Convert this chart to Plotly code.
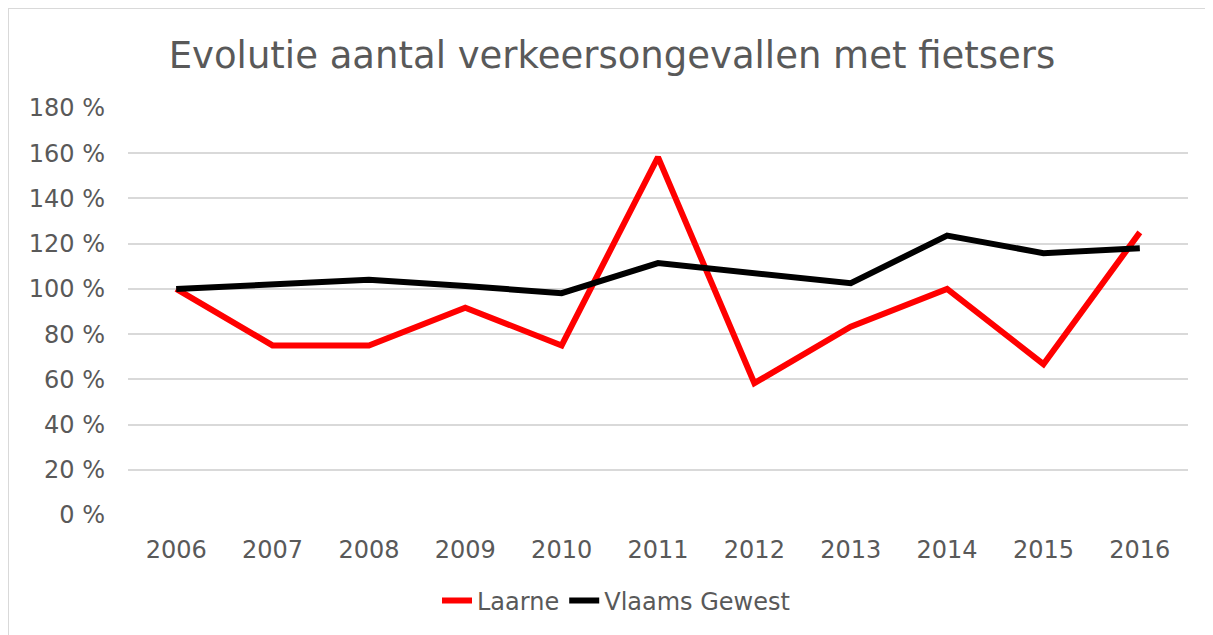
import plotly.graph_objects as go

years = ["2006", "2007", "2008", "2009", "2010", "2011", "2012", "2013", "2014", "2015", "2016"]
laarne = [100, 75, 75, 91.7, 75, 158.3, 58.3, 83.3, 100, 66.7, 125]
vlaams = [100, 102.3, 104, 101.3, 98.1, 111.4, 107.2, 102.5, 123.6, 115.8, 118.0]
y_ticks = [0, 20, 40, 60, 80, 100, 120, 140, 160, 180]
y_ticktext = [f"{v} %" for v in y_ticks]

TXT = "#595959"
FONT = "DejaVu Sans"

fig = go.Figure()
fig.add_trace(go.Scatter(x=years, y=laarne, mode="lines", name="Laarne",
                         line=dict(color="#ff0000", width=6)))
fig.add_trace(go.Scatter(x=years, y=vlaams, mode="lines", name="Vlaams Gewest",
                         line=dict(color="#000000", width=6)))

# page has an 8px body margin; figure starts at page (8, 8)
OFF = 8
W, H = 1213 - OFF, 635 - OFF
L, R, T, B = 128 - OFF, 1213 - 1188, 108 - OFF, 635 - 515
pw = W - L - R
ph = H - T - B

fig.update_layout(
    width=W, height=H,
    margin=dict(l=L, r=R, t=T, b=B),
    paper_bgcolor="white", plot_bgcolor="white",
    font=dict(family=FONT, color=TXT, size=24),
    title=dict(text="Evolutie aantal verkeersongevallen met fietsers",
               x=(612 - OFF) / W, xanchor="center", y=1 - (55 - OFF) / H, yanchor="middle",
               font=dict(family=FONT, size=37, color=TXT)),
    showlegend=True,
    legend=dict(orientation="h", x=(616 - OFF - L) / pw, xanchor="center",
                y=-(601 - OFF - (T + ph)) / ph, yanchor="middle",
                font=dict(family=FONT, size=24, color=TXT),
                bgcolor="rgba(0,0,0,0)"),
    xaxis=dict(type="category", range=[-0.5, 10.5], showgrid=False,
               showline=False, zeroline=False, ticks="",
               tickfont=dict(family=FONT, size=24, color=TXT),
               ticklabelstandoff=18),
    yaxis=dict(range=[0, 180], tickmode="array", tickvals=y_ticks, ticktext=y_ticktext,
               showgrid=True, gridcolor="#d9d9d9", gridwidth=1.5,
               zeroline=False, showline=False, ticks="",
               tickfont=dict(family=FONT, size=24, color=TXT),
               ticklabelstandoff=22),
)

# outer chart border (visible top and left edges)
fig.add_shape(type="line", xref="paper", yref="paper",
              x0=-L / pw, x1=(W - L) / pw, y0=1 + T / ph, y1=1 + T / ph,
              line=dict(color="#d9d9d9", width=2))
fig.add_shape(type="line", xref="paper", yref="paper",
              x0=-L / pw, x1=-L / pw, y0=1 + T / ph, y1=-(H - (T + ph)) / ph,
              line=dict(color="#d9d9d9", width=2))

fig.write_html("out.html")
